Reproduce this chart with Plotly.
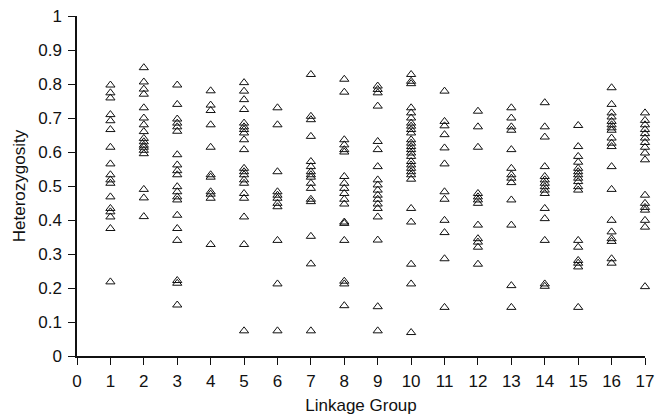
import plotly.graph_objects as go

g1 = [0.797, 0.774, 0.759, 0.710, 0.692, 0.666, 0.614, 0.565, 0.533, 0.518, 0.508, 0.468, 0.434, 0.424, 0.409, 0.375, 0.218]
g2 = [0.848, 0.806, 0.785, 0.770, 0.730, 0.700, 0.680, 0.660, 0.640, 0.630, 0.620, 0.614, 0.605, 0.595, 0.490, 0.465, 0.410]
g3 = [0.797, 0.740, 0.697, 0.685, 0.674, 0.661, 0.592, 0.562, 0.545, 0.533, 0.498, 0.483, 0.468, 0.459, 0.414, 0.375, 0.340, 0.222, 0.214, 0.150]
g4 = [0.780, 0.738, 0.722, 0.680, 0.614, 0.533, 0.526, 0.483, 0.476, 0.464, 0.328]
g5 = [0.804, 0.779, 0.754, 0.725, 0.685, 0.674, 0.666, 0.656, 0.636, 0.607, 0.552, 0.542, 0.533, 0.518, 0.508, 0.478, 0.464, 0.409, 0.328, 0.074]
g6 = [0.730, 0.680, 0.542, 0.483, 0.473, 0.464, 0.449, 0.439, 0.340, 0.212, 0.074]
g7 = [0.828, 0.705, 0.695, 0.646, 0.572, 0.557, 0.542, 0.533, 0.526, 0.508, 0.493, 0.461, 0.454, 0.352, 0.271, 0.074]
g8 = [0.814, 0.776, 0.636, 0.621, 0.607, 0.600, 0.528, 0.508, 0.493, 0.478, 0.461, 0.447, 0.394, 0.390, 0.340, 0.220, 0.212, 0.148]
g9 = [0.794, 0.784, 0.774, 0.735, 0.631, 0.607, 0.557, 0.518, 0.503, 0.488, 0.473, 0.461, 0.447, 0.434, 0.409, 0.341, 0.145, 0.074]
g10 = [0.828, 0.808, 0.801, 0.730, 0.715, 0.700, 0.685, 0.676, 0.666, 0.656, 0.636, 0.626, 0.616, 0.607, 0.597, 0.587, 0.572, 0.562, 0.552, 0.542, 0.533, 0.520, 0.434, 0.394, 0.270, 0.212, 0.069]
g11 = [0.779, 0.690, 0.677, 0.651, 0.612, 0.565, 0.483, 0.461, 0.399, 0.363, 0.286, 0.143]
g12 = [0.720, 0.674, 0.614, 0.478, 0.468, 0.459, 0.449, 0.385, 0.345, 0.335, 0.320, 0.270]
g13 = [0.730, 0.700, 0.674, 0.664, 0.607, 0.552, 0.533, 0.523, 0.510, 0.459, 0.385, 0.207, 0.143]
g14 = [0.745, 0.674, 0.644, 0.557, 0.528, 0.518, 0.508, 0.498, 0.488, 0.478, 0.434, 0.404, 0.340, 0.212, 0.205]
g15 = [0.678, 0.616, 0.587, 0.570, 0.552, 0.542, 0.533, 0.523, 0.513, 0.498, 0.488, 0.340, 0.320, 0.281, 0.273, 0.262, 0.143]
g16 = [0.789, 0.740, 0.715, 0.703, 0.690, 0.680, 0.671, 0.664, 0.641, 0.626, 0.616, 0.557, 0.490, 0.399, 0.365, 0.345, 0.337, 0.286, 0.273]
g17 = [0.715, 0.693, 0.680, 0.666, 0.654, 0.641, 0.628, 0.614, 0.597, 0.577, 0.473, 0.449, 0.437, 0.429, 0.399, 0.379, 0.204]

groups = [g1, g2, g3, g4, g5, g6, g7, g8, g9, g10, g11, g12, g13, g14, g15, g16, g17]
x_ticks = list(range(0, 18))
y_ticks = [0, 0.1, 0.2, 0.3, 0.4, 0.5, 0.6, 0.7, 0.8, 0.9, 1]

xs, ys = [], []
for i, g in enumerate(groups, start=1):
    xs += [i] * len(g)
    ys += g

fig = go.Figure(go.Scatter(
    x=xs, y=ys, mode="markers",
    marker=dict(symbol="triangle-up-open", size=8, color="#111", line=dict(width=1, color="#111")),
    showlegend=False, cliponaxis=False,
))

# the page body has an 8px default margin, so the figure is 8px smaller and offset
font = dict(family="Liberation Sans, Arial, Helvetica, sans-serif", size=17, color="#111")
fig.update_layout(
    width=656, height=410,
    margin=dict(l=69, r=19, t=8, b=62),
    paper_bgcolor="white", plot_bgcolor="white",
    font=font,
)
fig.update_xaxes(
    range=[0, 17], tickvals=x_ticks, ticktext=[str(v) for v in x_ticks],
    showline=True, linecolor="#111", linewidth=1.5, ticks="outside", ticklen=7, tickcolor="#111",
    ticklabelstandoff=2, ticklabeloverflow="allow",
    showgrid=False, zeroline=False, automargin=False,
    title=dict(text="Linkage Group", standoff=9, font=font),
)
fig.update_yaxes(
    range=[0, 1], tickvals=y_ticks, ticktext=[("%g" % v) for v in y_ticks],
    showline=True, linecolor="#111", linewidth=1.5, ticks="outside", ticklen=7, tickcolor="#111",
    ticklabelstandoff=3, ticklabeloverflow="allow",
    showgrid=False, zeroline=False, automargin=False,
    title=dict(text="Heterozygosity", standoff=8, font=font),
)
fig.write_html("out.html")
